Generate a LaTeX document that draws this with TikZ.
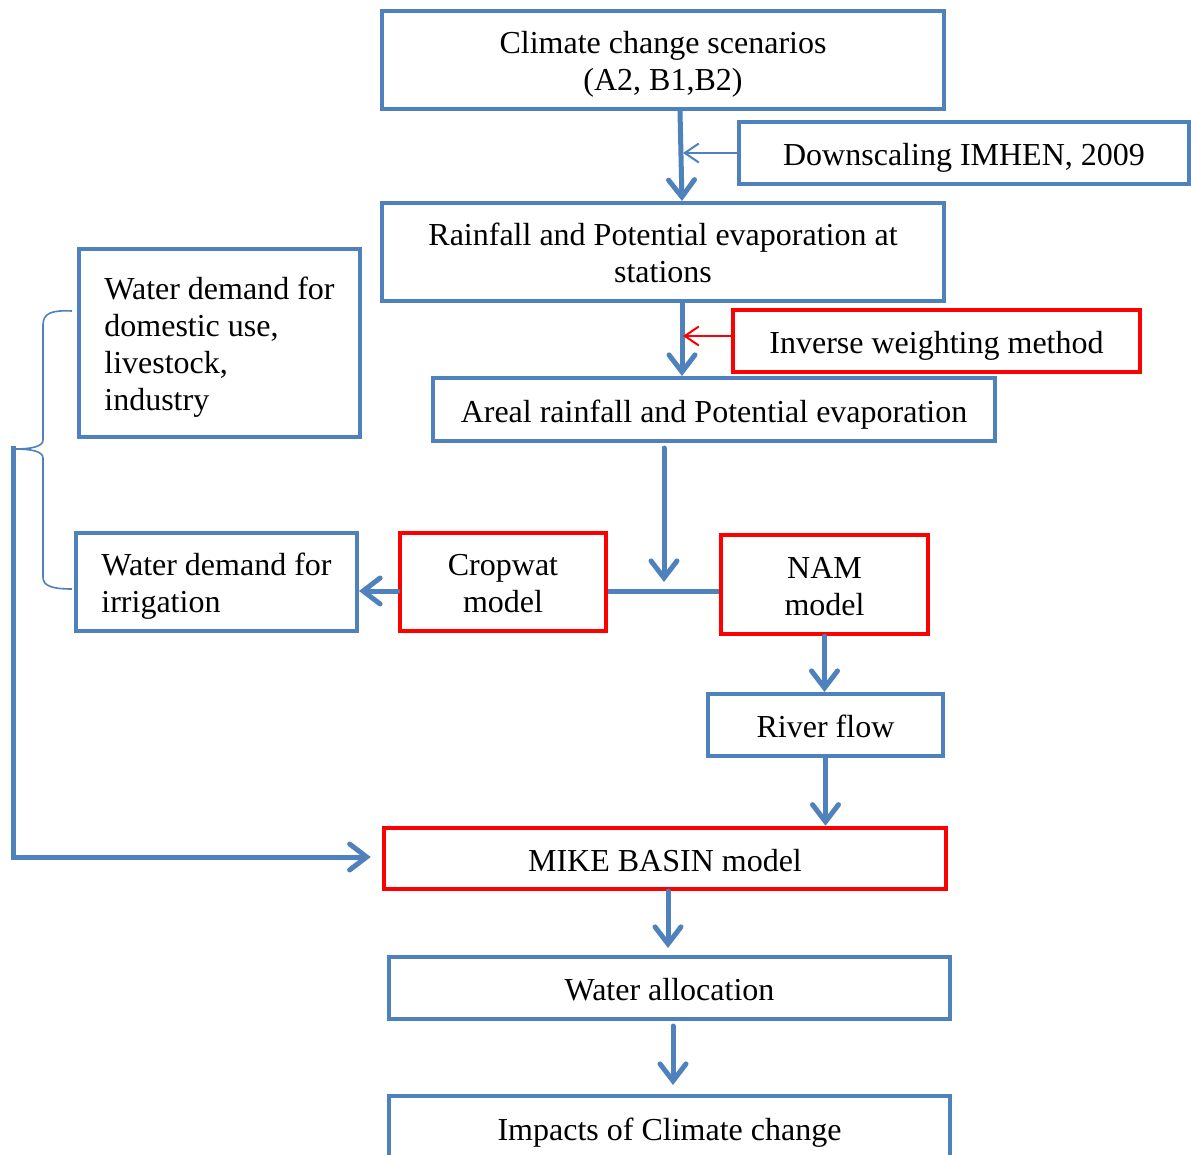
\documentclass[tikz,border=0pt]{standalone}
\usepackage{fontspec}
\setmainfont{Liberation Serif}
\usetikzlibrary{arrows.meta,calc}
\definecolor{myblue}{HTML}{4F81BD}
\definecolor{myred}{HTML}{FF0000}
\newcommand\mystrut{\rule[-6.9pt]{0pt}{39.4pt}}
\newcommand\ms{\rule[-6.9pt]{0pt}{38pt}}
\newcommand\myendstrut{\rule[-6.9pt]{0pt}{6.9pt}}
\begin{document}
\begin{tikzpicture}[x=1pt,y=-1pt,
  box/.style={draw=myblue, line width=4pt, inner sep=0pt, align=center, font=\fontsize{32}{37}\selectfont, text=black,
    execute at begin node=\mystrut, execute at end node=\myendstrut},
  rbox/.style={box, draw=myred, line width=4.5pt},
  leftbox/.style={box, align=left},
  bigarr/.style={draw=myblue, line width=5pt, line cap=round, -{Straight Barb[length=17pt,width=26pt,line cap=round]}},
  thinarr/.style={draw=myblue, line width=2pt, -{Straight Barb[length=14pt,width=19pt]}},
  thinred/.style={draw=myred, line width=2pt, -{Straight Barb[length=14pt,width=19pt]}},
  plainline/.style={draw=myblue, line width=5pt},
  bracestyle/.style={draw=myblue, line width=1.6pt}
]
\useasboundingbox (0,0) rectangle (1191,1155);
\clip (0,0) rectangle (1191,1155);

\node[box, minimum width=562pt, minimum height=98pt] (clim) at (663,60) {\ms Climate change scenarios\\(A2, B1,B2)};
\node[box, minimum width=450pt, minimum height=62pt] (down) at (964,153) {Downscaling IMHEN, 2009};
\node[box, minimum width=562pt, minimum height=98pt] (rain) at (663,252) {\ms Rainfall and Potential evaporation at\\stations};
\node[rbox, minimum width=407pt, minimum height=62pt] (inv) at (936.5,341) {Inverse weighting method};
\node[box, minimum width=562pt, minimum height=63pt] (areal) at (714,409.5) {Areal rainfall and Potential evaporation};
\node[leftbox, minimum width=281pt, minimum height=188pt] (dom) at (219.5,343) {\ms Water demand for\\domestic use,\\livestock,\\industry};
\node[leftbox, minimum width=281pt, minimum height=98pt] (irr) at (216.5,582) {\ms Water demand for\\irrigation};
\node[rbox, minimum width=206pt, minimum height=98pt] (crop) at (503,582) {\ms Cropwat\\model};
\node[rbox, minimum width=207pt, minimum height=99pt] (nam) at (824.5,584.5) {\ms NAM\\model};
\node[box, minimum width=235pt, minimum height=62pt] (river) at (825.5,725) {River flow};
\node[rbox, minimum width=562pt, minimum height=61pt] (mike) at (665,858.5) {MIKE BASIN model};
\node[box, minimum width=561pt, minimum height=62pt] (alloc) at (669.5,988) {Water allocation};
\node[box, minimum width=561pt, minimum height=63pt] (imp) at (669.5,1127.5) {Impacts of Climate change};

\coordinate (j1) at (683,153);
\coordinate (j2) at (683,336);
\coordinate (j3) at (664,582);
\coordinate (btip) at (13,446);

% main chain
\draw[bigarr] ([xshift=17pt]clim.south) -- ([xshift=19pt]rain.north);
\draw[thinarr] (down.west) -- (j1);
\draw[bigarr] ([xshift=19pt]rain.south) -- ([xshift=19pt]rain.south |- areal.north);
\draw[thinred] ([yshift=5pt]inv.west) -- (j2);
\draw[bigarr, shorten <=5pt] ([xshift=-50pt]areal.south) -- (j3);
\draw[plainline] ([yshift=-9pt]crop.east) -- ([yshift=-9pt]crop.east -| nam.west);
\draw[bigarr] ([yshift=-9pt]crop.west) -- ([yshift=-9pt]crop.west -| irr.east);
\draw[bigarr] (nam.south) -- (nam.south |- river.north);
\draw[bigarr] (river.south) -- (river.south |- mike.north);
\draw[bigarr, line cap=butt] (btip) |- ([xshift=-11pt,yshift=1.5pt]mike.west);
\draw[bigarr, shorten >=7pt] ([xshift=3pt]mike.south) -- ([xshift=3pt]mike.south |- alloc.north);
\draw[bigarr, shorten <=5pt, shorten >=9pt] ([xshift=3.5pt]alloc.south) -- ([xshift=3.5pt]alloc.south |- imp.north);

% brace
\draw[bracestyle] (72,311) .. controls (52,310) and (43,313) .. (43,325) -- (43,440)
  .. controls (43,447) and (30,449) .. (15,449)
  .. controls (30,449) and (43,451) .. (43,458) -- (43,577)
  .. controls (43,586) and (52,589) .. (72,589);
\end{tikzpicture}
\end{document}
